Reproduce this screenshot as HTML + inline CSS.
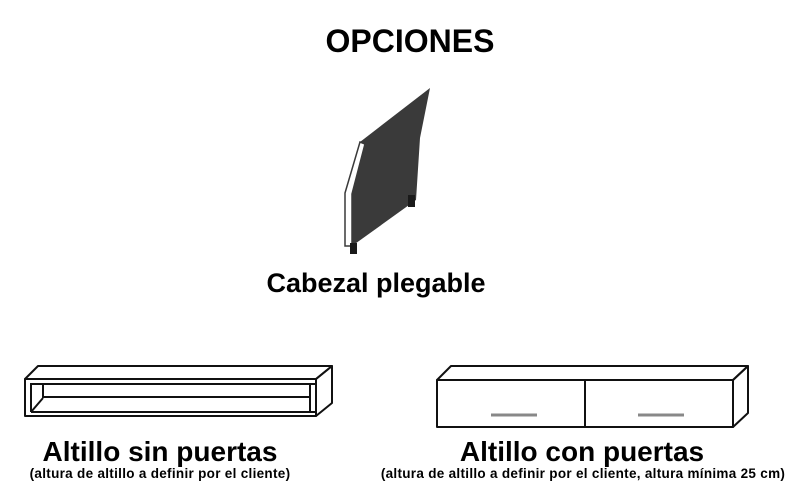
<!DOCTYPE html>
<html><head><style>
body{margin:0;width:800px;height:500px;background:#fff;font-family:"Liberation Sans",Arial,sans-serif;overflow:hidden}
.t{position:absolute;font-weight:bold;color:#000;white-space:nowrap;text-align:center}
</style></head><body>
<div class="t" style="left:0;width:820px;top:23px;font-size:32px">OPCIONES</div>
<div class="t" style="left:0;width:752px;top:268px;font-size:27px">Cabezal plegable</div>
<div class="t" style="left:0px;width:320px;top:436px;font-size:28px">Altillo sin puertas</div>
<div class="t" style="left:0px;width:320px;top:466px;font-size:13.5px;letter-spacing:0.3px">(altura de altillo a definir por el cliente)</div>
<div class="t" style="left:432px;width:300px;top:436px;font-size:28px">Altillo con puertas</div>
<div class="t" style="left:333px;width:500px;top:466px;font-size:13.5px;letter-spacing:0.3px">(altura de altillo a definir por el cliente, altura mínima 25 cm)</div>
<svg width="800" height="500" style="position:absolute;left:0;top:0">
<g>
<polygon points="360,142 430,88 420,138 416,200 352,246 346,193" fill="#3a3a3a"/>
<polygon points="360,142 365,144 352,194 352,246 345,246 345,193" fill="#fff" stroke="#3a3a3a" stroke-width="1.5"/>
<polygon points="350,243 357,243 357,254 350,254" fill="#1a1a1a"/>
<polygon points="408,195 415,195 415,207 408,207" fill="#1a1a1a"/>
</g>
<g fill="none" stroke="#111" stroke-width="2" stroke-linejoin="round">
<polygon points="25,379 38,366 332,366 316,379"/>
<rect x="25" y="379" width="291" height="37"/>
<polygon points="316,379 332,366 332,403 316,416"/>
<line x1="31" y1="383" x2="31" y2="412"/>
<line x1="31" y1="384" x2="316" y2="384"/>
<line x1="31" y1="412" x2="316" y2="412"/>
<line x1="43" y1="384" x2="43" y2="398"/>
<line x1="43" y1="397" x2="310" y2="397"/>
<line x1="31" y1="412" x2="43" y2="398"/>
<line x1="310" y1="384" x2="310" y2="412"/>
<polygon points="437,380 451,366 748,366 733,380"/>
<rect x="437" y="380" width="296" height="47"/>
<polygon points="733,380 748,366 748,413 733,427"/>
<line x1="585" y1="380" x2="585" y2="427"/>
</g>
<g stroke="#888" stroke-width="3">
<line x1="491" y1="415" x2="537" y2="415"/>
<line x1="638" y1="415" x2="684" y2="415"/>
</g>
</svg>
</body></html>
